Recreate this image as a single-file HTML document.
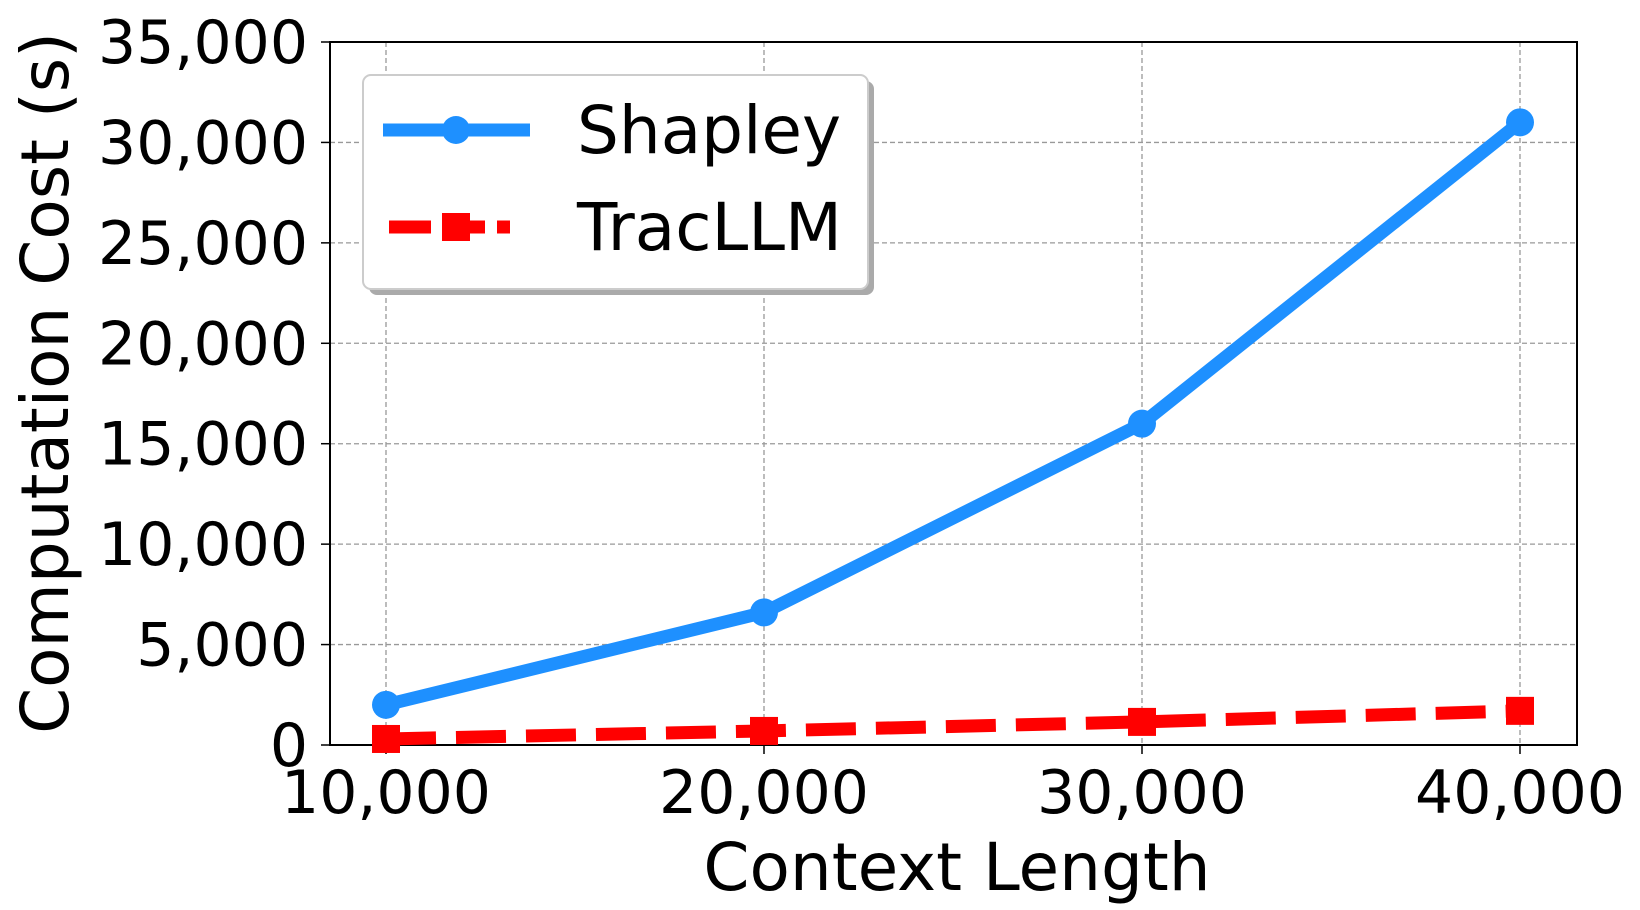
<!DOCTYPE html>
<html><head><meta charset="utf-8"><style>
html,body{margin:0;padding:0;background:#fff;}
svg{display:block;font-family:"DejaVu Sans","Liberation Sans",sans-serif;}
</style></head><body>
<svg id="chart" width="1640" height="910" viewBox="0 0 1640 910"></svg>
<script>
const categories=[10000,20000,30000,40000];
const xTickLabels=["10,000","20,000","30,000","40,000"];
const shapleyValues=[2000,6600,16000,31000];
const tracllmValues=[300,700,1150,1700];
const yTicks=[0,5000,10000,15000,20000,25000,30000,35000];
const yTickLabels=["0","5,000","10,000","15,000","20,000","25,000","30,000","35,000"];

const L=330,R=1577,T=42,B=745;
const xs=v=>386+(v-10000)/30000*(1520-386);
const ys=v=>B-v/35000*(B-T);
const NS="http://www.w3.org/2000/svg";
const svg=document.getElementById('chart');
function mk(tag,attrs,parent){const e=document.createElementNS(NS,tag);for(const k in attrs)e.setAttribute(k,attrs[k]);(parent||svg).appendChild(e);return e;}

categories.forEach((c,i)=>{
  const g=mk('line',{x1:xs(c),x2:xs(c),y1:T,y2:B,stroke:'#999','stroke-width':1.3,'stroke-dasharray':'5,3'});
  
  
  const t=mk('line',{x1:xs(c),x2:xs(c),y1:B,y2:B+9,stroke:'#000','stroke-width':1.5});
  
  
  const lb=mk('text',{x:xs(c),y:813,'font-size':60,'text-anchor':'middle',fill:'#000'});
  lb.textContent=xTickLabels[i];
  
  
});
yTicks.forEach((v,i)=>{
  if(v>0&&v<35000){
    const g=mk('line',{x1:L,x2:R,y1:ys(v),y2:ys(v),stroke:'#999','stroke-width':1.3,'stroke-dasharray':'5,3'});
    
    
  }
  const t=mk('line',{x1:L-9,x2:L,y1:ys(v),y2:ys(v),stroke:'#000','stroke-width':1.5});
  
  
  const lb=mk('text',{x:308,y:ys(v)+21,'font-size':60,'text-anchor':'end',fill:'#000'});
  lb.textContent=yTickLabels[i];
  
  
});
const frame=mk('rect',{x:L,y:T,width:R-L,height:B-T,fill:'none',stroke:'#000','stroke-width':2});



const sp=mk('polyline',{points:categories.map((c,i)=>xs(c)+','+ys(shapleyValues[i])).join(' '),fill:'none',stroke:'#1e90ff','stroke-width':13,'stroke-linejoin':'round'});


categories.forEach((c,i)=>{
  const m=mk('circle',{cx:xs(c),cy:ys(shapleyValues[i]),r:14,fill:'#1e90ff'});
  
  
});
const tp=mk('polyline',{points:categories.map((c,i)=>xs(c)+','+ys(tracllmValues[i])).join(' '),fill:'none',stroke:'#ff0000','stroke-width':13,'stroke-dasharray':'50,20'});


categories.forEach((c,i)=>{
  const m=mk('rect',{x:xs(c)-14,y:ys(tracllmValues[i])-14,width:28,height:28,fill:'#ff0000'});
  
  
});

const xt=mk('text',{x:957,y:890,'font-size':66,'text-anchor':'middle',fill:'#000'});
xt.textContent='Context Length';


const yt=mk('text',{x:0,y:0,'font-size':66,'text-anchor':'middle',fill:'#000',transform:'translate(68,383) rotate(-90)'});
yt.textContent='Computation Cost (s)';



const lg=mk('g',{});


mk('rect',{x:369,y:81,width:505,height:214,rx:8,fill:'#aaa'},lg);
mk('rect',{x:363,y:75,width:505,height:214,rx:8,fill:'#fff',stroke:'#ccc','stroke-width':2},lg);
const e1=mk('g',{},lg);


mk('line',{x1:383,x2:530,y1:130,y2:130,stroke:'#1e90ff','stroke-width':13},e1);
mk('circle',{cx:456,cy:130,r:14,fill:'#1e90ff'},e1);
const t1=mk('text',{x:577,y:153,'font-size':66,fill:'#000'},e1);t1.textContent='Shapley';
const e2=mk('g',{},lg);


mk('line',{x1:389,x2:510,y1:227,y2:227,stroke:'#ff0000','stroke-width':13,'stroke-dasharray':'42,12'},e2);
mk('rect',{x:442,y:213,width:28,height:28,fill:'#ff0000'},e2);
const t2=mk('text',{x:577,y:250,'font-size':66,fill:'#000'},e2);t2.textContent='TracLLM';
</script>
</body></html>
